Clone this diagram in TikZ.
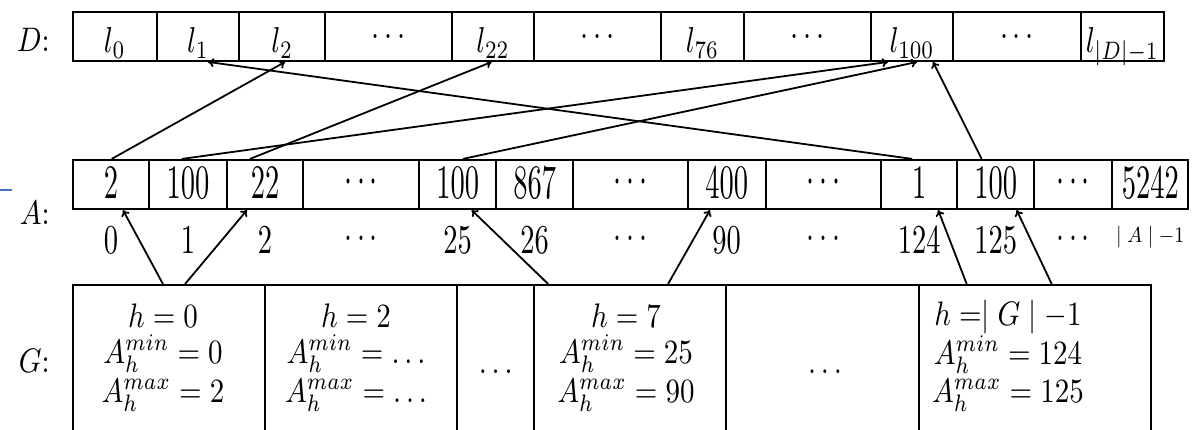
\documentclass[tikz,border=0pt]{standalone}
\usepackage{graphicx}
\usetikzlibrary{arrows.meta}
\newcommand{\vs}[3]{\scalebox{#1}[#2]{#3}}
\definecolor{tickblue}{RGB}{68,114,196}
\begin{document}
\begin{tikzpicture}[x=1pt,y=-1pt,
  cellbox/.style={draw, line width=1.9pt, inner sep=0pt, minimum height=49.3pt},
  gcell/.style={draw, line width=1.9pt, inner sep=0pt, minimum height=200pt, anchor=north},
  txt/.style={inner sep=0pt, anchor=base},
  lbl/.style={inner sep=0pt, anchor=base east},
  link/.style={line width=1.8pt, -{To[length=6pt,width=9pt]}}
]
\fill[white] (0,0) rectangle (1198,430);
\useasboundingbox (0,0) rectangle (1198,430);
\clip (0,0) rectangle (1198,430);

% D row cells
\foreach \l/\r [count=\i from 0] in {72.7/156.7,156.7/239.3,239.3/325,325/451.7,451.7/534.3,534.3/661,661/744,744/870.7,870.7/953.3,953.3/1080.7,1080.7/1164}
  \node[cellbox, minimum width={(\r-\l)*1pt}] (d\i) at ({(\l+\r)/2},36.35) {};
% A row cells
\foreach \l/\r [count=\i from 0] in {72.7/149.3,149.3/226.7,226.7/303.3,303.3/419.3,419.3/496,496/573.3,573.3/687.7,687.7/765.7,765.7/881,881/957.3,957.3/1034,1034/1112.3,1112.3/1188.3}
  \node[cellbox, minimum width={(\r-\l)*1pt}] (a\i) at ({(\l+\r)/2},184.5) {};
% G row cells
\foreach \l/\r [count=\i from 0] in {72.7/265,265/457.3,457.3/534.3,534.3/726,726/919.3,919.3/1150.7}
  \node[gcell, minimum width={(\r-\l)*1pt}] (g\i) at ({(\l+\r)/2},284) {};

% row labels
\node[lbl] (ld) at (50,51.7) {\vs{2.9}{3.4}{$D$:}};
\node[lbl] (la) at (50,225) {\vs{2.9}{3.4}{$A$:}};
\node[lbl] (lg) at (50,372) {\vs{2.9}{3.4}{$G$:}};

% D texts
\node[txt] (dt0) at (114.7,53) {\vs{2.9}{3.6}{$l_0$}};
\node[txt] (dt1) at (198,53) {\vs{2.9}{3.6}{$l_1$}};
\node[txt] (dt2) at (282.2,53) {\vs{2.9}{3.6}{$l_2$}};
\node[txt] (dt3) at (388.4,46) {\vs{2.9}{3.6}{$\cdots$}};
\node[txt] (dt4) at (493,53) {\vs{2.9}{3.6}{$l_{22}$}};
\node[txt] (dt5) at (597.7,46) {\vs{2.9}{3.6}{$\cdots$}};
\node[txt] (dt6) at (702.5,53) {\vs{2.9}{3.6}{$l_{76}$}};
\node[txt] (dt7) at (807.4,46) {\vs{2.9}{3.6}{$\cdots$}};
\node[txt] (dt8) at (912,53) {\vs{2.9}{3.6}{$l_{100}$}};
\node[txt] (dt9) at (1017,46) {\vs{2.9}{3.6}{$\cdots$}};
\node[txt] (dt10) at (1122.4,53) {\vs{2.9}{3.6}{$l_{|D|-1}$}};

% A values
\node[txt] (at0) at (111,198.3) {\vs{2.85}{4.8}{$2$}};
\node[txt] (at1) at (188,198.3) {\vs{2.85}{4.8}{$100$}};
\node[txt] (at2) at (265,198.3) {\vs{2.85}{4.8}{$22$}};
\node[txt] (at3) at (361.3,194) {\vs{2.85}{4.8}{$\cdots$}};
\node[txt] (at4) at (457.7,198.3) {\vs{2.85}{4.8}{$100$}};
\node[txt] (at5) at (534.7,198.3) {\vs{2.85}{4.8}{$867$}};
\node[txt] (at6) at (630.5,194) {\vs{2.85}{4.8}{$\cdots$}};
\node[txt] (at7) at (726.7,198.3) {\vs{2.85}{4.8}{$400$}};
\node[txt] (at8) at (823.4,194) {\vs{2.85}{4.8}{$\cdots$}};
\node[txt] (at9) at (919.2,198.3) {\vs{2.85}{4.8}{$1$}};
\node[txt] (at10) at (995.7,198.3) {\vs{2.85}{4.8}{$100$}};
\node[txt] (at11) at (1073.2,194) {\vs{2.85}{4.8}{$\cdots$}};
\node[txt] (at12) at (1150.3,198.3) {\vs{2.85}{4.8}{$5242$}};

% A indices
\node[txt] (ix0) at (111,253.3) {\vs{2.85}{4.1}{$0$}};
\node[txt] (ix1) at (188,253.3) {\vs{2.85}{4.1}{$1$}};
\node[txt] (ix2) at (265,253.3) {\vs{2.85}{4.1}{$2$}};
\node[txt] (ix3) at (361.3,248) {\vs{2.85}{4.1}{$\cdots$}};
\node[txt] (ix4) at (457.7,253.3) {\vs{2.85}{4.1}{$25$}};
\node[txt] (ix5) at (534.7,253.3) {\vs{2.85}{4.1}{$26$}};
\node[txt] (ix6) at (630.5,248) {\vs{2.85}{4.1}{$\cdots$}};
\node[txt] (ix7) at (726.7,253.3) {\vs{2.85}{4.1}{$90$}};
\node[txt] (ix8) at (823.4,248) {\vs{2.85}{4.1}{$\cdots$}};
\node[txt] (ix9) at (919.2,253.3) {\vs{2.85}{4.1}{$124$}};
\node[txt] (ix10) at (995.7,253.3) {\vs{2.85}{4.1}{$125$}};
\node[txt] (ix11) at (1073.2,248) {\vs{2.85}{4.1}{$\cdots$}};
\node[txt] (ix12) at (1150.3,243) {\vs{2.0}{2.2}{$\mid A\mid -1$}};

% G texts
\node[txt] (g0a) at (163,327) {\vs{2.9}{3.4}{$h=0$}};
\node[txt] (g0b) at (163,363) {\vs{2.9}{3.4}{$A_h^{min}=0$}};
\node[txt] (g0c) at (163,402) {\vs{2.9}{3.4}{$A_h^{max}=2$}};
\node[txt] (g1a) at (356,327) {\vs{2.9}{3.4}{$h=2$}};
\node[txt] (g1b) at (356,363) {\vs{2.9}{3.4}{$A_h^{min}=\ldots$}};
\node[txt] (g1c) at (356,402) {\vs{2.9}{3.4}{$A_h^{max}=\ldots$}};
\node[txt] (g2a) at (495.8,373) {\vs{2.9}{3.4}{$\ldots$}};
\node[txt] (g3a) at (626,327) {\vs{2.9}{3.4}{$h=7$}};
\node[txt] (g3b) at (626,363) {\vs{2.9}{3.4}{$A_h^{min}=25$}};
\node[txt] (g3c) at (626,402) {\vs{2.9}{3.4}{$A_h^{max}=90$}};
\node[txt] (g4a) at (825,373) {\vs{2.9}{3.4}{$\ldots$}};
\node[txt] (g5a) at (1008,325) {\vs{2.9}{3.4}{$h=\mid G\mid -1$}};
\node[txt] (g5b) at (1008,364) {\vs{2.9}{3.4}{$A_h^{min}=124$}};
\node[txt] (g5c) at (1008,402) {\vs{2.9}{3.4}{$A_h^{max}=125$}};

% A -> D connectors
\draw[link] ([xshift=0.7pt]a0.north) -- ([xshift=2.9pt]d2.south);
\draw[link] ([xshift=-6pt]a1.north) -- ([xshift=-24pt]d8.south);
\draw[link] ([xshift=-15pt]a2.north) -- ([xshift=-1.3pt]d4.south);
\draw[link] ([xshift=5.3pt]a4.north) -- ([xshift=5pt]d8.south);
\draw[link] ([xshift=-7pt]a9.north) -- ([xshift=10pt]d1.south);
\draw[link] ([xshift=-14pt]a10.north) -- ([xshift=21pt]d8.south);

% G -> A connectors
\draw[link] ([xshift=-5.9pt]g0.north) -- ([xshift=12pt]a0.south);
\draw[link] ([xshift=16.2pt]g0.north) -- ([xshift=-18pt]a2.south);
\draw[link] ([xshift=-82pt]g3.north) -- ([xshift=14pt]a4.south);
\draw[link] ([xshift=37.9pt]g3.north) -- ([xshift=-16.7pt]a7.south);
\draw[link] ([xshift=-68.3pt]g5.north) -- ([xshift=19pt]a9.south);
\draw[link] ([xshift=16.7pt]g5.north) -- ([xshift=21pt]a10.south);

% small blue mark at the left edge
\draw[tickblue, line width=1.2pt] (0,190) -- (12,190);
\end{tikzpicture}
\end{document}
